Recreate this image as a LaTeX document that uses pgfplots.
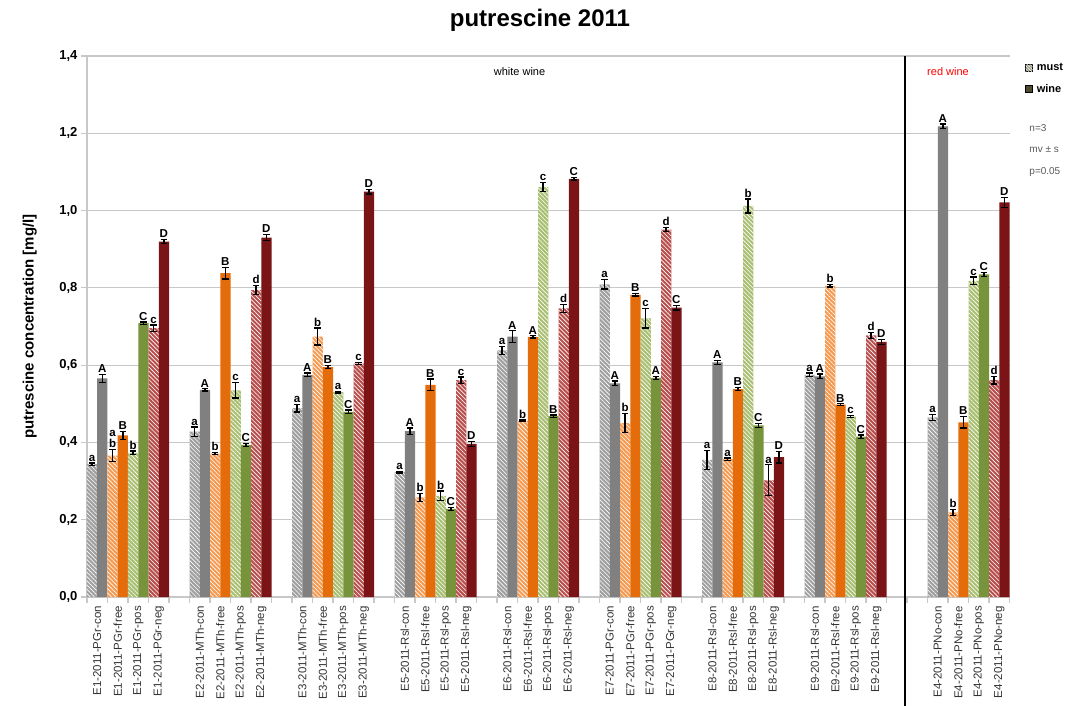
\documentclass[border=0pt]{standalone}
\usepackage{fontspec}
\setmainfont{Liberation Sans}
\usepackage{pgfplots}
\usepackage{pgfplotstable}
\pgfplotsset{compat=1.18}
\usetikzlibrary{patterns.meta}

\definecolor{conM}{HTML}{A0A0A0}
\definecolor{conW}{HTML}{808080}
\definecolor{freeM}{HTML}{F59A50}
\definecolor{freeW}{HTML}{E46C0A}
\definecolor{posM}{HTML}{A9BF72}
\definecolor{posW}{HTML}{77933C}
\definecolor{negM}{HTML}{B94F4D}
\definecolor{negW}{HTML}{7B1417}
\definecolor{legW}{HTML}{4F4A30}
\definecolor{legM}{HTML}{9A9A88}
\definecolor{gridc}{HTML}{C8C8C8}

\newcommand{\ab}{\shortstack{a\\b}}

\pgfplotstableread{
x must mE mL wine wE wL
0  0.344 0.003 a 0.566 0.010 A
5  0.428 0.012 a 0.536 0.003 A
10 0.489 0.010 a 0.575 0.005 A
15 0.323 0.002 a 0.429 0.008 A
20 0.638 0.010 a 0.674 0.015 A
25 0.809 0.012 a 0.553 0.006 A
30 0.355 0.025 a 0.607 0.005 A
35 0.575 0.005 a 0.571 0.006 A
41 0.465 0.008 a 1.218 0.006 A
}\con
\pgfplotstableread{
x must mE mL wine wE wL
1  0.366 0.015 {\ab} 0.418 0.010 B
6  0.371 0.003 b 0.838 0.015 B
11 0.674 0.022 b 0.595 0.004 B
16 0.258 0.010 b 0.549 0.015 B
21 0.456 0.002 b 0.673 0.003 A
26 0.450 0.025 b 0.782 0.003 B
31 0.357 0.003 a 0.538 0.004 B
36 0.805 0.003 b 0.498 0.002 B
42 0.219 0.008 b 0.452 0.015 B
}\free
\pgfplotstableread{
x must mE mL wine wE wL
2  0.373 0.005 b 0.709 0.003 C
7  0.535 0.020 c 0.394 0.004 C
12 0.530 0.002 a 0.479 0.005 C
17 0.262 0.012 b 0.228 0.004 C
22 1.061 0.012 c 0.468 0.003 B
27 0.721 0.025 c 0.567 0.004 A
32 1.012 0.018 b 0.444 0.005 C
37 0.467 0.002 c 0.415 0.004 C
43 0.818 0.010 c 0.835 0.005 C
}\pos
\pgfplotstableread{
x must mE mL wine wE wL
3  0.696 0.008 c 0.920 0.005 D
8  0.794 0.012 d 0.930 0.008 D
13 0.604 0.003 c 1.049 0.006 D
18 0.561 0.008 c 0.396 0.007 D
23 0.747 0.010 d 1.082 0.003 C
28 0.951 0.006 d 0.749 0.006 C
33 0.302 0.040 a 0.362 0.015 D
38 0.677 0.008 d 0.660 0.006 D
44 0.561 0.010 d 1.021 0.013 D
}\neg

\pgfplotsset{
  barbase/.style={ybar, bar width=0.5, bar shift=0pt, draw=none, forget plot,
    error bars/y dir=both, error bars/y explicit,
    error bars/error bar style={black, line width=1.3pt},
    error bars/error mark options={rotate=90, black, mark size=3.2pt, line width=1.3pt}},
  mustbar/.style={barbase, fill=#1,
    postaction={pattern={Lines[angle=-45,distance=3pt,line width=0.6pt]}, pattern color=white}},
  winebar/.style={barbase, fill=#1},
  lab/.style={draw=none, mark=none, forget plot, nodes near coords, point meta=explicit symbolic,
    nodes near coords style={font=\bfseries\fontsize{11.5}{11.5}\selectfont, anchor=south, inner sep=1.5pt, black}},
}

\begin{document}
\begin{tikzpicture}
\useasboundingbox (-87pt,-109pt) rectangle (991pt,597pt);
\begin{axis}[
  at={(0,0)}, anchor=south west,
  x=20.5pt, y=386.4pt,
  xmin=-0.5, xmax=44.5, ymin=0, ymax=1.4,
  clip=false,
  axis x line=bottom, axis y line=left,
  axis line style={-, draw=gridc, line width=1.2pt},
  ymajorgrids, major grid style={gridc, line width=1.1pt},
  ytick={0,0.2,...,1.4},
  yticklabel style={font=\bfseries\fontsize{13}{13}\selectfont, /pgf/number format/.cd, fixed, fixed zerofill, precision=1, use comma, assume math mode=true},
  ytick style={draw=gridc, line width=1.2pt},
  tick align=outside, major tick length=6pt, minor tick length=6pt,
  xtick={0,1,2,3,5,6,7,8,10,11,12,13,15,16,17,18,20,21,22,23,25,26,27,28,30,31,32,33,35,36,37,38,41,42,43,44},
  xticklabels={E1-2011-PGr-con,E1-2011-PGr-free,E1-2011-PGr-pos,E1-2011-PGr-neg,
    E2-2011-MTh-con,E2-2011-MTh-free,E2-2011-MTh-pos,E2-2011-MTh-neg,
    E3-2011-MTh-con,E3-2011-MTh-free,E3-2011-MTh-pos,E3-2011-MTh-neg,
    E5-2011-Rsl-con,E5-2011-Rsl-free,E5-2011-Rsl-pos,E5-2011-Rsl-neg,
    E6-2011-Rsl-con,E6-2011-Rsl-free,E6-2011-Rsl-pos,E6-2011-Rsl-neg,
    E7-2011-PGr-con,E7-2011-PGr-free,E7-2011-PGr-pos,E7-2011-PGr-neg,
    E8-2011-Rsl-con,E8-2011-Rsl-free,E8-2011-Rsl-pos,E8-2011-Rsl-neg,
    E9-2011-Rsl-con,E9-2011-Rsl-free,E9-2011-Rsl-pos,E9-2011-Rsl-neg,
    E4-2011-PNo-con,E4-2011-PNo-free,E4-2011-PNo-pos,E4-2011-PNo-neg},
  xticklabel style={rotate=90, anchor=east, font=\fontsize{11.5}{11.5}\selectfont, color=black!80, inner sep=3pt},
  major x tick style={draw=none},
  minor xtick={-0.5,0.5,...,44.5},
  minor x tick style={draw=gridc, line width=1.2pt},
  title={putrescine 2011},
  title style={at={(axis description cs:0.491,1)}, anchor=south, yshift=15pt, font=\bfseries\fontsize{24}{24}\selectfont},
  ylabel={putrescine concentration [mg/l]},
  ylabel style={at={(axis description cs:-0.062,0.5)}, anchor=center, font=\bfseries\fontsize{15}{15}\selectfont},
  legend style={at={(axis description cs:1.017,0.99)}, anchor=north west, draw=none, fill=none,
    font=\bfseries\fontsize{11}{11}\selectfont, row sep=8pt, column sep=2pt, inner sep=0pt},
  legend cell align=left,
  legend image code/.code={\draw[#1] (0pt,-3.5pt) rectangle (7pt,3.5pt);},
]
% con
\addplot[mustbar=conM] table[x expr=\thisrow{x}-0.25, y=must, y error=mE] {\con};
\addplot[winebar=conW] table[x expr=\thisrow{x}+0.25, y=wine, y error=wE] {\con};
% free
\addplot[mustbar=freeM] table[x expr=\thisrow{x}-0.25, y=must, y error=mE] {\free};
\addplot[winebar=freeW] table[x expr=\thisrow{x}+0.25, y=wine, y error=wE] {\free};
% pos
\addplot[mustbar=posM] table[x expr=\thisrow{x}-0.25, y=must, y error=mE] {\pos};
\addplot[winebar=posW] table[x expr=\thisrow{x}+0.25, y=wine, y error=wE] {\pos};
% neg
\addplot[mustbar=negM] table[x expr=\thisrow{x}-0.25, y=must, y error=mE] {\neg};
\addplot[winebar=negW] table[x expr=\thisrow{x}+0.25, y=wine, y error=wE] {\neg};
% letters
\addplot[lab] table[x expr=\thisrow{x}-0.25, y expr=\thisrow{must}+\thisrow{mE}, meta=mL] {\con};
\addplot[lab] table[x expr=\thisrow{x}+0.25, y expr=\thisrow{wine}+\thisrow{wE}, meta=wL] {\con};
\addplot[lab] table[x expr=\thisrow{x}-0.25, y expr=\thisrow{must}+\thisrow{mE}, meta=mL] {\free};
\addplot[lab] table[x expr=\thisrow{x}+0.25, y expr=\thisrow{wine}+\thisrow{wE}, meta=wL] {\free};
\addplot[lab] table[x expr=\thisrow{x}-0.25, y expr=\thisrow{must}+\thisrow{mE}, meta=mL] {\pos};
\addplot[lab] table[x expr=\thisrow{x}+0.25, y expr=\thisrow{wine}+\thisrow{wE}, meta=wL] {\pos};
\addplot[lab] table[x expr=\thisrow{x}-0.25, y expr=\thisrow{must}+\thisrow{mE}, meta=mL] {\neg};
\addplot[lab] table[x expr=\thisrow{x}+0.25, y expr=\thisrow{wine}+\thisrow{wE}, meta=wL] {\neg};
% legend
\addlegendimage{fill=legM, draw=none, postaction={pattern={Lines[angle=-45,distance=2pt,line width=0.5pt]}, pattern color=white}}
\addlegendentry{must}
\addlegendimage{fill=legW, draw=none}
\addlegendentry{wine}
% separator and annotations
\draw[black, line width=1.5pt] (axis cs:39.4,1.4) -- (axis cs:39.4,0) -- ([yshift=-109pt]axis cs:39.4,0);
\node[font=\fontsize{11}{11}\selectfont] at (axis cs:20.6,1.359) {white wine};
\node[font=\fontsize{11}{11}\selectfont, text=red] at (axis cs:41.5,1.359) {red wine};
\node[anchor=west, font=\fontsize{10}{10}\selectfont, text=black!65] at (axis cs:45.3,1.214) {n=3};
\node[anchor=west, font=\fontsize{10}{10}\selectfont, text=black!65] at (axis cs:45.3,1.157) {mv ± s};
\node[anchor=west, font=\fontsize{10}{10}\selectfont, text=black!65] at (axis cs:45.3,1.100) {p=0.05};
\end{axis}
\end{tikzpicture}
\end{document}
